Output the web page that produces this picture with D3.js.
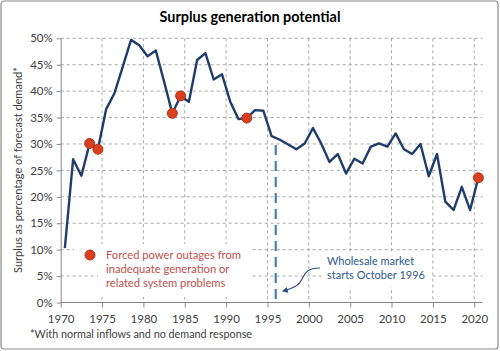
<!DOCTYPE html>
<html>
<head>
<meta charset="utf-8">
<script src="https://cdn.jsdelivr.net/npm/d3@7"></script>
<style>
  body { margin: 0; background: #fff; }
  svg text { font-family: Lato, "Open Sans", sans-serif; }
</style>
</head>
<body>
<svg id="chart" width="500" height="351"></svg>
<script>
// surplus as share of forecast demand, one value per year 1970..2020
const years = d3.range(1970, 2021)
const surplus = [
    10.3, 27.1, 24.0, 30.1, 29.0, 36.6, 39.6, 44.6, 49.7, 48.7,
    46.6, 47.7, 41.8, 35.8, 39.1, 38.0, 45.9, 47.2, 42.2, 43.2,
    38.0, 34.7, 34.9, 36.4, 36.3, 31.5, 30.8, 29.9, 29.0, 30.1,
    33.0, 30.1, 26.6, 28.1, 24.4, 27.2, 26.3, 29.5, 30.1, 29.5,
    32.0, 29.0, 28.1, 30.0, 23.9, 28.1, 19.1, 17.5, 21.9, 17.5,
    23.6
]
// years with forced outages
const outageYears = [1973, 1974, 1983, 1984, 1992, 2020]
const xTicks = [1970, 1975, 1980, 1985, 1990, 1995, 2000, 2005, 2010, 2015, 2020]
const yTicks = [0, 0.05, 0.1, 0.15, 0.2, 0.25, 0.3, 0.35, 0.4, 0.45, 0.5]
const marketYear = 1996

const data = years.map((yr, i) => ({ year: yr, value: surplus[i] / 100 }))

const svg = d3.select("#chart")
const plotL = 60.7, plotR = 482.5, plotT = 38.3, plotB = 302.5

// outer frame
svg.append("rect")
    .attr("x", 1).attr("y", 1)
    .attr("width", 497).attr("height", 348)
    .attr("rx", 3)
    .style("fill", "#fff")
    .style("stroke", "#8c8c8c")
    .style("stroke-width", 1.2)

const x = d3.scaleLinear().domain([1970, 2021]).range([plotL, plotR])
const y = d3.scaleLinear().domain([0, 0.5]).range([plotB, plotT])
// points sit in the middle of each year's slot
const px = yr => x(yr + 0.5)

// gridlines
const grid = svg.append("g")
    .style("stroke", "#a6a6a6")
    .style("stroke-width", 1)
    .style("stroke-dasharray", "3,3")

grid.selectAll("line.h")
    .data(yTicks.filter(d => d > 0))
    .join("line")
    .attr("class", "h")
    .attr("x1", plotL).attr("x2", plotR)
    .attr("y1", d => y(d)).attr("y2", d => y(d))

grid.selectAll("line.v")
    .data(xTicks.filter(d => d > 1970))
    .join("line")
    .attr("class", "v")
    .attr("x1", d => x(d)).attr("x2", d => x(d))
    .attr("y1", plotT).attr("y2", plotB)

// white boxes behind annotations
svg.append("rect")
    .attr("x", 74).attr("y", 244).attr("width", 24).attr("height", 22)
    .style("fill", "#fff")
svg.append("rect")
    .attr("x", 98).attr("y", 244).attr("width", 152).attr("height", 53)
    .style("fill", "#fff")
svg.append("rect")
    .attr("x", 322).attr("y", 252).attr("width", 110).attr("height", 35)
    .style("fill", "#fff")

// axes
const xAxis = svg.append("g")
    .attr("transform", `translate(0,${plotB})`)
    .call(d3.axisBottom(x).tickValues(xTicks).tickFormat(d3.format("d")).tickSize(5).tickSizeOuter(0))
const yAxis = svg.append("g")
    .attr("transform", `translate(${plotL},0)`)
    .call(d3.axisLeft(y).tickValues(yTicks).tickFormat(d3.format(".0%")).tickSize(4).tickSizeOuter(0))

;[xAxis, yAxis].forEach(a => {
    a.selectAll("path, line").style("stroke", "#868686").style("stroke-width", 1)
    a.selectAll("text").style("font-size", "11.5px").style("fill", "#404040")
        .style("font-family", "Lato, sans-serif")
})
xAxis.selectAll("text").attr("dy", "1.05em")
yAxis.selectAll("text").attr("x", -8)
xAxis.select(".domain").attr("d", `M${plotL},0H${plotR}`)

// market start line
svg.append("line")
    .attr("x1", x(marketYear)).attr("x2", x(marketYear))
    .attr("y1", y(0.298)).attr("y2", plotB)
    .style("stroke", "#4a7ab5")
    .style("stroke-width", 2.2)
    .style("stroke-dasharray", "10,6")

// surplus line
const line = d3.line().x(d => px(d.year)).y(d => y(d.value))
svg.append("path")
    .datum(data)
    .attr("d", line)
    .style("fill", "none")
    .style("stroke", "#1f3d6b")
    .style("stroke-width", 2.4)
    .style("stroke-linejoin", "round")

// outage markers
svg.selectAll("circle.outage")
    .data(data.filter(d => outageYears.includes(d.year)))
    .join("circle")
    .attr("class", "outage")
    .attr("cx", d => px(d.year))
    .attr("cy", d => y(d.value))
    .attr("r", 5)
    .style("fill", "#d7401e")
    .style("stroke", "#b5321a")
    .style("stroke-width", 1)

// legend
svg.append("circle")
    .attr("cx", 90).attr("cy", 255).attr("r", 5)
    .style("fill", "#d7401e")
    .style("stroke", "#b5321a")
const legendLines = ["Forced power outages from", "inadequate generation or", "related system problems"]
svg.append("text")
    .attr("x", 106).attr("y", 259)
    .style("font-size", "11.2px")
    .style("fill", "#c0504d")
    .selectAll("tspan")
    .data(legendLines)
    .join("tspan")
    .attr("x", 106)
    .attr("dy", (d, i) => i ? 14.2 : 0)
    .text(d => d)

// wholesale market note
svg.append("text")
    .attr("x", 327).attr("y", 265)
    .style("font-size", "11px")
    .style("fill", "#2f5a8c")
    .selectAll("tspan")
    .data(["Wholesale market", "starts October 1996"])
    .join("tspan")
    .attr("x", 327)
    .attr("dy", (d, i) => i ? 14.2 : 0)
    .text(d => d)

svg.append("defs").append("marker")
    .attr("id", "arrow")
    .attr("viewBox", "0 0 10 10")
    .attr("refX", 8).attr("refY", 5)
    .attr("markerWidth", 5).attr("markerHeight", 5)
    .attr("orient", "auto")
    .append("path")
    .attr("d", "M0,0L10,5L0,10z")
    .style("fill", "#2f4f7f")

svg.append("path")
    .attr("d", "M320,268 C300,268 306,280 296,286 C291,289 287,290 283,291")
    .style("fill", "none")
    .style("stroke", "#2f4f7f")
    .style("stroke-width", 1.2)
    .attr("marker-end", "url(#arrow)")

// title, axis title, footnote
svg.append("text")
    .attr("x", 250).attr("y", 22)
    .attr("text-anchor", "middle")
    .style("font-size", "14.4px")
    .style("font-weight", "bold")
    .style("fill", "#000")
    .text("Surplus generation potential")

svg.append("text")
    .attr("transform", `translate(22,${170}) rotate(-90)`)
    .attr("text-anchor", "middle")
    .style("font-size", "11px")
    .style("fill", "#404040")
    .text("Surplus as percentage of forecast demand*")

svg.append("text")
    .attr("x", 30).attr("y", 338)
    .style("font-size", "10.8px")
    .style("fill", "#404040")
    .text("*With normal inflows and no demand response")
</script>
</body>
</html>
